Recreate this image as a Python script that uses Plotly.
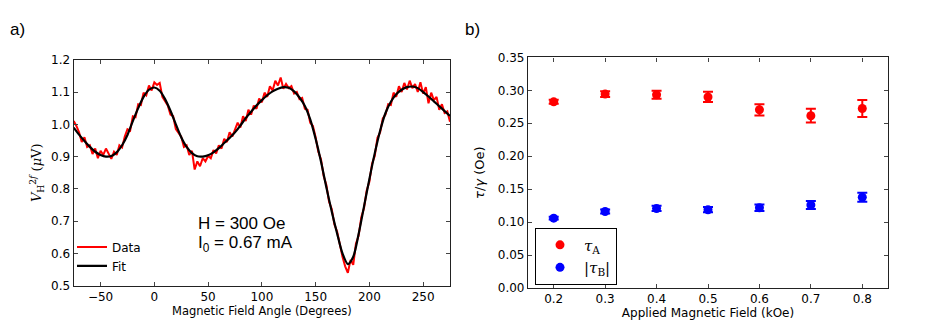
import plotly.graph_objects as go

# panel a) : angle sweep (degrees) and Hall voltage (uV)
angle_data = [-75 + 2.5 * i for i in range(141)]
v_data = [1.010, 0.995, 0.975, 0.945, 0.960, 0.930, 0.935, 0.908, 0.925, 0.895,
          0.918, 0.905, 0.925, 0.910, 0.893, 0.915, 0.905, 0.935, 0.928, 0.962,
          0.985, 0.980, 1.025, 1.022, 1.062, 1.060, 1.098, 1.090, 1.120, 1.105,
          1.130, 1.122, 1.128, 1.085, 1.070, 1.058, 1.030, 1.025, 0.985, 0.975,
          0.962, 0.930, 0.935, 0.905, 0.918, 0.860, 0.885, 0.870, 0.895, 0.885,
          0.902, 0.895, 0.920, 0.910, 0.935, 0.925, 0.955, 0.945, 0.975, 0.962,
          0.985, 1.005, 0.990, 1.025, 1.010, 1.045, 1.030, 1.058, 1.048, 1.080,
          1.068, 1.098, 1.085, 1.118, 1.105, 1.135, 1.120, 1.145, 1.110, 1.125,
          1.112, 1.118, 1.095, 1.100, 1.078, 1.082, 1.048, 1.045, 1.005, 0.995,
          0.960, 0.915, 0.892, 0.840, 0.812, 0.760, 0.738, 0.690, 0.668, 0.625,
          0.590, 0.560, 0.540, 0.580, 0.565, 0.630, 0.655, 0.712, 0.740, 0.795,
          0.822, 0.878, 0.902, 0.958, 0.975, 1.018, 1.030, 1.062, 1.060, 1.098,
          1.085, 1.118, 1.100, 1.128, 1.108, 1.135, 1.112, 1.125, 1.100, 1.130,
          1.095, 1.115, 1.065, 1.098, 1.075, 1.085, 1.045, 1.062, 1.035, 1.040,
          1.008]

angle_fit = [-75 + 5 * i for i in range(71)]
v_fit = [0.990, 0.968, 0.948, 0.930, 0.915, 0.905, 0.900, 0.902, 0.913, 0.935,
         0.967, 1.010, 1.050, 1.085, 1.107, 1.114, 1.104, 1.078, 1.042, 1.000,
         0.960, 0.930, 0.911, 0.901, 0.900, 0.904, 0.913, 0.926, 0.942, 0.958,
         0.975, 0.996, 1.019, 1.039, 1.058, 1.075, 1.090, 1.102, 1.110, 1.115,
         1.113, 1.102, 1.083, 1.057, 1.015, 0.955, 0.885, 0.805, 0.730, 0.662,
         0.600, 0.567, 0.590, 0.660, 0.745, 0.830, 0.910, 0.980, 1.035, 1.070,
         1.093, 1.107, 1.115, 1.117, 1.112, 1.100, 1.086, 1.071, 1.056, 1.041,
         1.026]

# panel b) : torques vs applied field
field = [0.2, 0.3, 0.4, 0.5, 0.6, 0.7, 0.8]
tau_a = [0.2826, 0.2943, 0.2933, 0.2900, 0.2705, 0.2615, 0.2725]
tau_a_err = [0.003, 0.0045, 0.006, 0.0078, 0.0085, 0.0104, 0.0128]
tau_b = [0.1060, 0.1160, 0.1207, 0.1188, 0.1217, 0.1260, 0.1377]
tau_b_err = [0.002, 0.003, 0.004, 0.004, 0.005, 0.006, 0.007]

W, H = 927, 331
tick_font = dict(family="DejaVu Sans", size=12, color="black")


def px_x(p):
    return p / W


def px_y(p):
    return 1 - p / H


fig = go.Figure()
fig.add_trace(go.Scatter(x=angle_data, y=v_data, mode="lines", name="Data",
                         line=dict(color="#ff0000", width=2), legend="legend"))
fig.add_trace(go.Scatter(x=angle_fit, y=v_fit, mode="lines", name="Fit",
                         line=dict(color="black", width=2.2, shape="spline", smoothing=0.8),
                         legend="legend"))

fig.add_trace(go.Scatter(x=field, y=tau_a, mode="markers", name="<i>τ</i><sub>A</sub>",
                         marker=dict(color="#ff0000", size=9),
                         error_y=dict(type="data", array=tau_a_err, color="#ff0000",
                                      thickness=2, width=5),
                         xaxis="x2", yaxis="y2", legend="legend2"))
fig.add_trace(go.Scatter(x=field, y=tau_b, mode="markers", name="|<i>τ</i><sub>B</sub>|",
                         marker=dict(color="#0000ff", size=9),
                         error_y=dict(type="data", array=tau_b_err, color="#0000ff",
                                      thickness=2, width=5),
                         xaxis="x2", yaxis="y2", legend="legend2"))

axis_style = dict(showline=True, linecolor="#222", linewidth=1.2, mirror="allticks",
                  ticks="inside", ticklen=4, tickcolor="#444", showgrid=False,
                  zeroline=False, tickfont=tick_font)

fig.update_layout(
    width=W, height=H,
    margin=dict(l=0, r=0, t=0, b=0),
    paper_bgcolor="white", plot_bgcolor="white",
    xaxis=dict(domain=[px_x(65.7), px_x(442)], range=[-75, 275], anchor="y",
               tickvals=[-50, 0, 50, 100, 150, 200, 250],
               title=dict(text="Magnetic Field Angle (Degrees)", standoff=3,
                          font=dict(family="DejaVu Sans", size=11.5, color="black")),
               **axis_style),
    yaxis=dict(domain=[px_y(282.7), px_y(46.7)], range=[0.5, 1.2], anchor="x",
               dtick=0.1, tickformat=".1f",
               title=dict(text="<i>V</i><sub>H</sub><sup>2<i>f</i></sup> (<i>μ</i>V)",
                          standoff=6,
                          font=dict(family="DejaVu Serif", size=13, color="black")),
               **axis_style),
    xaxis2=dict(domain=[px_x(520), px_x(880)], range=[0.15, 0.85], anchor="y2",
                tickvals=field, tickformat=".1f",
                title=dict(text="Applied Magnetic Field (kOe)", standoff=3,
                           font=dict(family="DejaVu Sans", size=12, color="black")),
                **axis_style),
    yaxis2=dict(domain=[px_y(285), px_y(44.3)], range=[0, 0.35], anchor="x2",
                dtick=0.05, tickformat=".2f",
                title=dict(text="<i>τ</i>/<i>γ</i> (Oe)", standoff=10,
                           font=dict(family="DejaVu Sans", size=13, color="black")),
                **axis_style),
    legend=dict(x=px_x(64), y=px_y(227), xanchor="left", yanchor="top",
                bgcolor="rgba(0,0,0,0)", borderwidth=0,
                font=dict(family="DejaVu Sans", size=12, color="black"),
                tracegroupgap=0),
    legend2=dict(x=px_x(527), y=px_y(222), xanchor="left", yanchor="top",
                 bgcolor="white", bordercolor="black", borderwidth=1,
                 itemwidth=38,
                 font=dict(family="DejaVu Serif", size=15, color="black")),
    annotations=[
        dict(text="a)", x=0, y=px_y(15), xref="paper", yref="paper", xanchor="left",
             yanchor="middle", showarrow=False,
             font=dict(family="Liberation Sans", size=17, color="black")),
        dict(text="b)", x=px_x(455), y=px_y(15), xref="paper", yref="paper",
             xanchor="left", yanchor="middle", showarrow=False,
             font=dict(family="Liberation Sans", size=17, color="black")),
        dict(text="H = 300 Oe", x=px_x(188), y=px_y(217.7), xref="paper", yref="paper",
             xanchor="left", yanchor="middle", showarrow=False,
             font=dict(family="Liberation Sans", size=17, color="black")),
        dict(text="I<sub>0</sub> = 0.67 mA", x=px_x(188), y=px_y(239.5), xref="paper",
             yref="paper", xanchor="left", yanchor="middle", showarrow=False,
             font=dict(family="Liberation Sans", size=17, color="black")),
    ],
)

fig.write_html("out.html")
